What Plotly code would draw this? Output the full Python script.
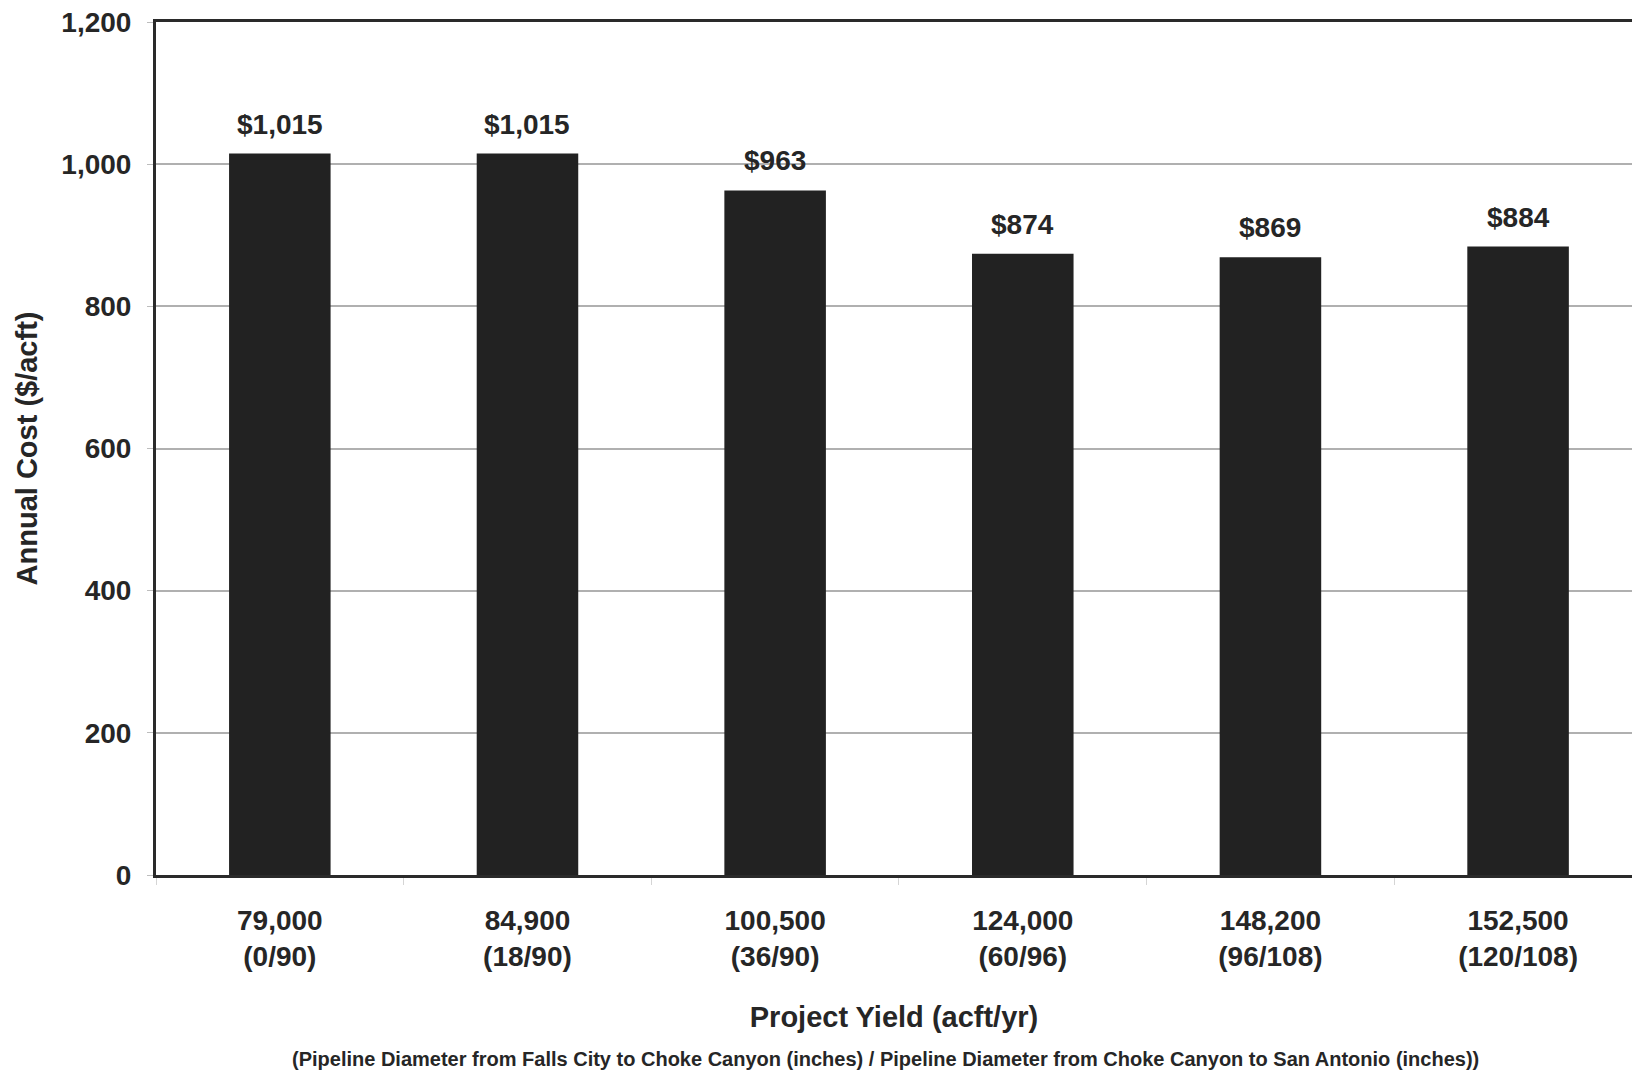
import plotly.graph_objects as go

yields = ["79,000", "84,900", "100,500", "124,000", "148,200", "152,500"]
diameters = ["(0/90)", "(18/90)", "(36/90)", "(60/96)", "(96/108)", "(120/108)"]
costs = [1015, 1015, 963, 874, 869, 884]

categories = [f"{a}<br>{b}" for a, b in zip(yields, diameters)]
FONT = "Liberation Sans, Arial, sans-serif"
TXT = "#262626"

fig = go.Figure(go.Bar(
    x=categories, y=costs,
    marker=dict(color="#222222", line=dict(width=0)),
    width=0.41,
    cliponaxis=False,
))

for c, v in zip(categories, costs):
    fig.add_annotation(
        x=c, y=v, text=f"${v:,}", showarrow=False,
        yanchor="bottom", yshift=12,
        font=dict(family=FONT, size=28, color=TXT, weight="bold"),
    )

fig.update_layout(
    width=1632, height=1073,
    margin=dict(l=156, r=0, t=22, b=198, autoexpand=False),
    paper_bgcolor="white", plot_bgcolor="white",
    font=dict(family=FONT, color=TXT, weight="bold"),
    showlegend=False,
    xaxis=dict(
        type="category", range=[-0.5, 5.46], automargin=False,
        showline=True, linecolor="#2a2a2a", linewidth=3, mirror=True,
        ticks="outside", tickson="boundaries", ticklen=7, tickcolor="#d5d5d5",
        ticklabelstandoff=18,
        tickfont=dict(family=FONT, size=28, color=TXT, weight="bold"),
        title=dict(text="Project Yield (acft/yr)", standoff=36,
                   font=dict(family=FONT, size=29, color=TXT, weight="bold")),
        showgrid=False,
    ),
    yaxis=dict(
        range=[0, 1200], dtick=200, tickformat=",d", automargin=False,
        showline=True, linecolor="#2a2a2a", linewidth=3,
        showgrid=True, gridcolor="#b0b0b0", gridwidth=1.5,
        zeroline=False,
        ticks="outside", ticklen=6, tickcolor="#bdbdbd",
        ticklabelstandoff=10,
        tickfont=dict(family=FONT, size=28, color=TXT, weight="bold"),
        title=dict(text="Annual Cost ($/acft)", standoff=16,
                   font=dict(family=FONT, size=29, color=TXT, weight="bold")),
    ),
)

fig.add_annotation(
    text="(Pipeline Diameter from Falls City to Choke Canyon (inches) / Pipeline Diameter from Choke Canyon to San Antonio (inches))",
    xref="paper", yref="paper", x=0.494, y=0, yshift=-184, yanchor="middle",
    showarrow=False, font=dict(family=FONT, size=20, color=TXT, weight="bold"),
)

fig.write_html(
    "out.html",
    config={"displayModeBar": False},
    post_script="document.body.style.margin='0';document.body.style.overflow='hidden';",
)
